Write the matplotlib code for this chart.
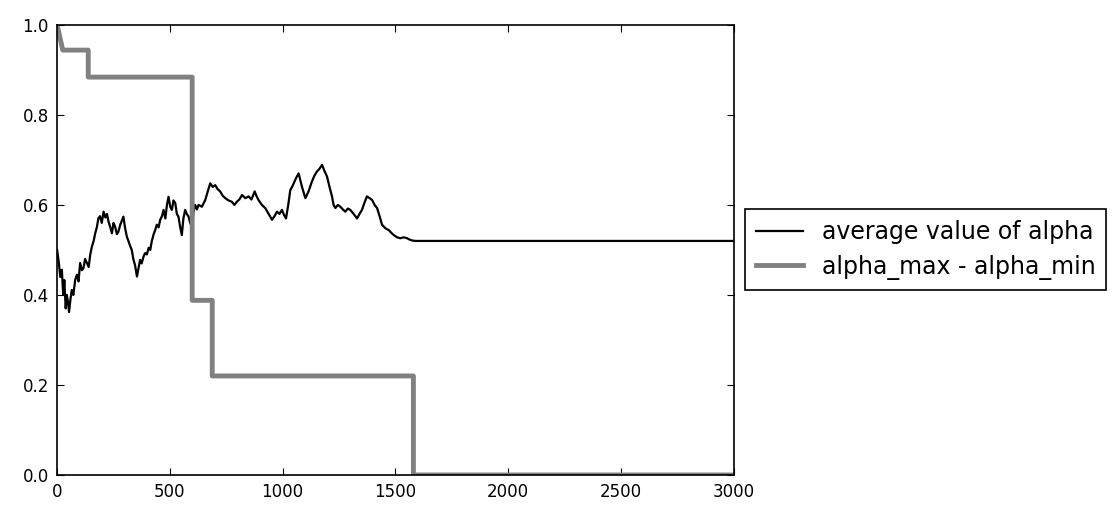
import matplotlib
matplotlib.use("Agg")
import matplotlib.pyplot as plt

# alpha_max - alpha_min (step curve)
gap_x = [0, 25, 138, 138, 599, 599, 688, 688, 1580, 1580, 3000]
gap_y = [1.0, 0.944, 0.944, 0.884, 0.884, 0.388, 0.388, 0.22, 0.22, 0.0, 0.0]

# average value of alpha
avg_x = [0, 8, 14, 21, 27, 32, 38, 43, 48, 53, 59, 65, 72, 80, 88, 95, 102,
         110, 117, 124, 132, 140, 147, 154, 162, 169, 176, 183, 190, 198, 206,
         214, 221, 228, 236, 243, 250, 257, 265, 272, 280, 287, 294, 301, 309,
         316, 323, 331, 338, 346, 354, 361, 368, 375, 383, 390, 398, 406, 413,
         420, 428, 435, 442, 450, 457, 465, 472, 480, 487, 494, 502, 509, 516,
         524, 531, 538, 546, 553, 560, 568, 575, 583, 590, 598, 605, 612, 620,
         627, 642, 657, 668, 679, 690, 701, 712, 723, 735, 746, 760, 775, 786,
         797, 808, 820, 835, 849, 862, 876, 884, 893, 908, 923, 938, 953, 964,
         975, 986, 997, 1006, 1015, 1025, 1034, 1042, 1049, 1060, 1071, 1086,
         1101, 1115, 1130, 1141, 1152, 1163, 1175, 1186, 1197, 1208, 1219, 1226,
         1234, 1245, 1256, 1267, 1278, 1289, 1300, 1315, 1330, 1341, 1352,
         1363, 1374, 1386, 1397, 1408, 1419, 1430, 1441, 1456, 1471, 1482,
         1493, 1508, 1522, 1537, 1552, 1563, 1574, 1590, 3000]
avg_y = [0.50, 0.47, 0.44, 0.456, 0.40, 0.433, 0.37, 0.40, 0.385, 0.362,
         0.39, 0.411, 0.40, 0.433, 0.445, 0.43, 0.471, 0.455, 0.46, 0.48,
         0.471, 0.462, 0.49, 0.507, 0.52, 0.537, 0.55, 0.57, 0.575, 0.56,
         0.585, 0.572, 0.58, 0.563, 0.55, 0.537, 0.56, 0.552, 0.535, 0.541,
         0.556, 0.565, 0.574, 0.55, 0.53, 0.52, 0.51, 0.50, 0.48, 0.465,
         0.441, 0.46, 0.478, 0.47, 0.485, 0.493, 0.49, 0.505, 0.50, 0.52,
         0.535, 0.544, 0.556, 0.55, 0.567, 0.575, 0.589, 0.57, 0.60, 0.618,
         0.595, 0.589, 0.61, 0.604, 0.58, 0.574, 0.55, 0.533, 0.57, 0.589,
         0.58, 0.574, 0.56, 0.552, 0.585, 0.60, 0.59, 0.60, 0.596, 0.611,
         0.63, 0.648, 0.64, 0.644, 0.635, 0.630, 0.62, 0.615, 0.61, 0.607,
         0.60, 0.607, 0.612, 0.622, 0.615, 0.619, 0.612, 0.630, 0.62, 0.611,
         0.60, 0.593, 0.58, 0.567, 0.575, 0.585, 0.58, 0.589, 0.578, 0.570,
         0.60, 0.633, 0.64, 0.648, 0.66, 0.670, 0.64, 0.615, 0.63, 0.652,
         0.665, 0.674, 0.68, 0.689, 0.675, 0.663, 0.64, 0.619, 0.60, 0.593,
         0.60, 0.596, 0.59, 0.585, 0.592, 0.589, 0.58, 0.570, 0.58, 0.589,
         0.605, 0.619, 0.615, 0.611, 0.60, 0.593, 0.575, 0.556, 0.548, 0.544,
         0.538, 0.533, 0.528, 0.526, 0.528, 0.526, 0.523, 0.521, 0.52, 0.52]

plt.rcParams["font.family"] = "DejaVu Sans"

fig = plt.figure(figsize=(11.2, 5.08), dpi=100)
ax = fig.add_axes([0.051, 0.065, 0.604, 0.886])

ax.plot(avg_x, avg_y, color="black", linewidth=1.6,
        label="average value of alpha")
ax.plot(gap_x, gap_y, color="#808080", linewidth=3.5,
        label="alpha_max - alpha_min")

ax.set_xlim(0, 3000)
ax.set_ylim(0, 1.0)
ax.set_xticks([0, 500, 1000, 1500, 2000, 2500, 3000])
ax.set_yticks([0.0, 0.2, 0.4, 0.6, 0.8, 1.0])
ax.set_yticklabels(["0.0", "0.2", "0.4", "0.6", "0.8", "1.0"])
ax.tick_params(direction="in", top=True, right=True, labelsize=12,
               length=5, pad=6)
for sp in ax.spines.values():
    sp.set_linewidth(1.2)

leg = ax.legend(loc="center left", bbox_to_anchor=(1.017, 0.5),
                borderaxespad=0, fontsize=17, fancybox=False,
                edgecolor="black", handlelength=2.0, borderpad=0.45,
                labelspacing=0.45, framealpha=1)
leg.get_frame().set_linewidth(1.2)

fig.savefig("out.png", dpi=100, facecolor="white")
